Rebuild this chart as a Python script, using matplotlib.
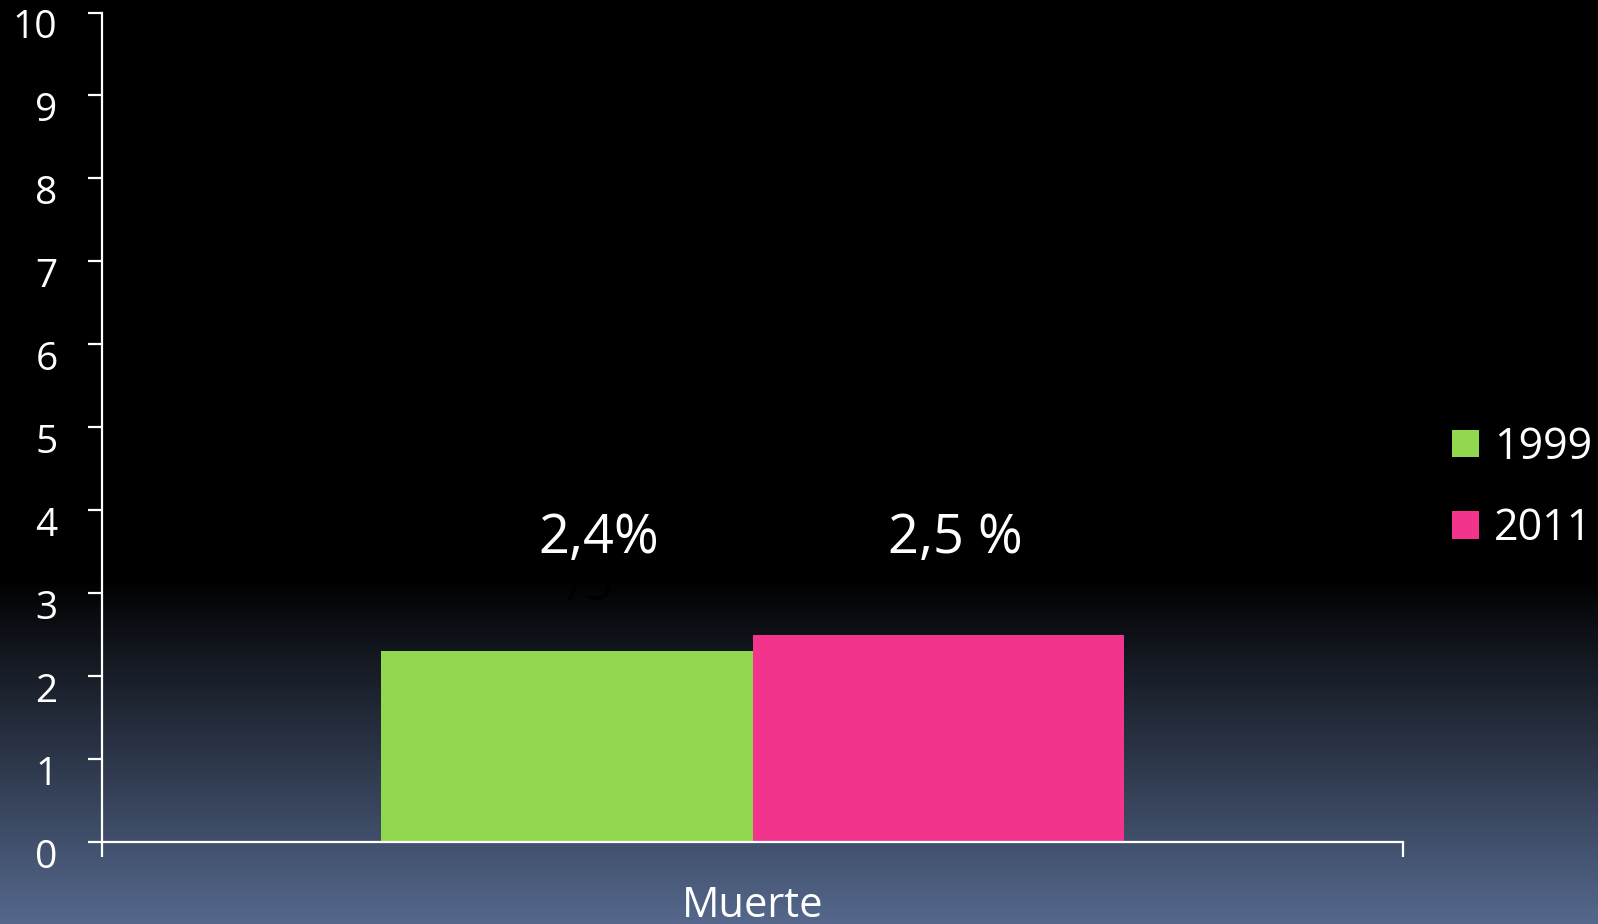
import numpy as np
import matplotlib
matplotlib.use("Agg")
import matplotlib.pyplot as plt
import matplotlib.transforms as mtransforms

plt.rcParams['font.family'] = ['Open Sans', 'DejaVu Sans']

# ---- data ----
categories = ["Muerte"]
series_names = ["1999", "2011"]
values_1999 = [2.3]
values_2011 = [2.5]
value_labels = ["2,4%", "2,5 %"]
series_colors = ["#92d84e", "#f2348d"]
yticks = list(range(0, 11))

W, H = 1598, 924
fig = plt.figure(figsize=(W / 100, H / 100), dpi=100)

# background gradient
bg = fig.add_axes([0, 0, 1, 1], zorder=-10)
bg.set_axis_off()
ys = np.linspace(0, 1, 400)  # 0 = top, 1 = bottom
start = 0.625
frac = np.clip((ys - start) / (1 - start), 0, 1)
top_c = np.array([0, 0, 0])
bot_c = np.array([0x55, 0x68, 0x8c]) / 255.0
cols = top_c[None, :] * (1 - frac[:, None]) + bot_c[None, :] * frac[:, None]
img = np.repeat(cols[:, None, :], 2, axis=1)
bg.imshow(img, aspect='auto', extent=[0, 1, 0, 1], origin='upper')
bg.set_xlim(0, 1)
bg.set_ylim(0, 1)

left = 102 / W
right = 1403 / W
bottom = (H - 842) / H
top = (H - 12.5) / H
ax = fig.add_axes([left, bottom, right - left, top - bottom])
ax.patch.set_alpha(0)

x = np.arange(len(categories))
w = 0.2857
ax.bar(x - w / 2, values_1999, width=w, color=series_colors[0], label=series_names[0], zorder=2)
ax.bar(x + w / 2, values_2011, width=w, color=series_colors[1], label=series_names[1], zorder=2)

ax.set_xlim(-0.5, 0.5)
ax.set_ylim(0, 10)

for s in ['top', 'right']:
    ax.spines[s].set_visible(False)
for s in ['left', 'bottom']:
    ax.spines[s].set_color('white')
    ax.spines[s].set_linewidth(1.6)

ax.set_yticks(yticks)
ax.set_yticklabels([str(t) for t in yticks])
ax.tick_params(axis='y', colors='white', labelcolor='white', labelsize=28,
               length=10, width=1.6, direction='out', pad=22)
offset = mtransforms.ScaledTranslation(0, -11 / 100, fig.dpi_scale_trans)
for lab in ax.get_yticklabels():
    lab.set_transform(lab.get_transform() + offset)

ax.set_xticks(x)
ax.set_xticklabels(categories)
ax.set_xticks([-0.5, 0.5], minor=True)
ax.tick_params(axis='x', which='major', length=0, labelcolor='white', labelsize=30, pad=31)
ax.tick_params(axis='x', which='minor', length=11, width=1.6, color='white', direction='out')

# value labels
ax.text(-0.118, 3.48, value_labels[0], color='white', fontsize=39, ha='center', va='baseline')
ax.text(0.156, 3.48, value_labels[1], color='white', fontsize=39, ha='center', va='baseline')
# faint ghost text behind
ax.text(-0.125, 2.92, "/5", color='#000000', fontsize=36, ha='center', va='baseline', zorder=1)

leg = ax.legend(loc='center left', bbox_to_anchor=(1452 / W, (H - 488) / H),
                bbox_transform=fig.transFigure, frameon=False, fontsize=31,
                handlelength=0.62, handleheight=0.62, handletextpad=0.35,
                labelspacing=0.85, borderpad=0, borderaxespad=0)
for t in leg.get_texts():
    t.set_color('white')

fig.savefig("out.png", dpi=100)
